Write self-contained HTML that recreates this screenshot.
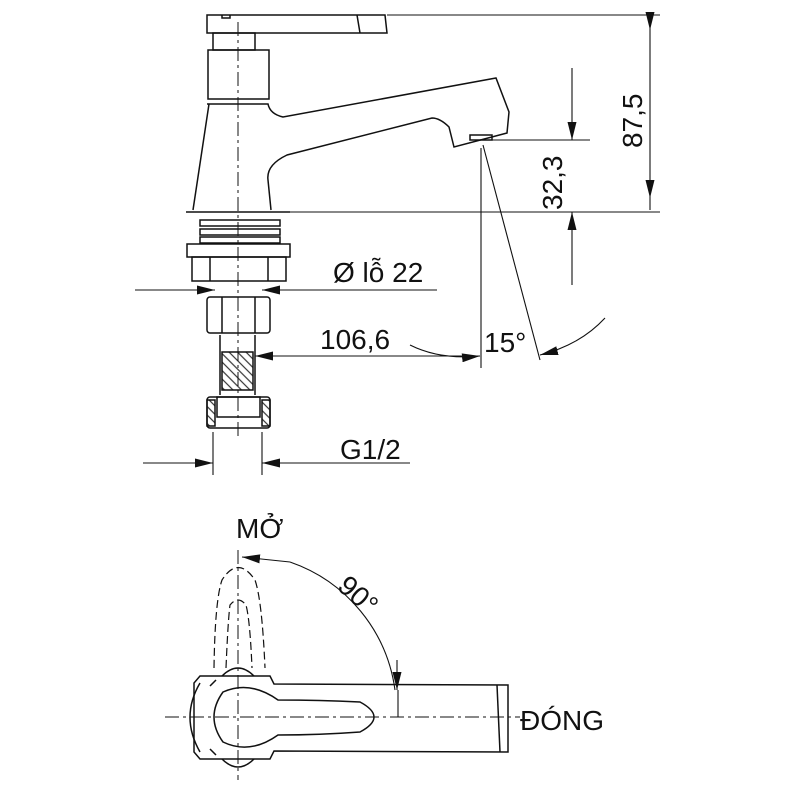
<!DOCTYPE html>
<html><head><style>html,body{margin:0;background:#fff}svg{display:block}text{font-family:"Liberation Sans",sans-serif;fill:#111}</style></head>
<body>
<svg width="800" height="800" viewBox="0 0 800 800" xmlns="http://www.w3.org/2000/svg">
<defs>
<marker id="a" markerWidth="18" markerHeight="9" refX="18" refY="4.5" orient="auto" markerUnits="userSpaceOnUse"><path d="M0,0L18,4.5L0,9z" fill="#111"/></marker>
<pattern id="h" width="6" height="6" patternUnits="userSpaceOnUse" patternTransform="rotate(45)"><path d="M0,3H6" stroke="#333" stroke-width="1.2"/></pattern>
</defs>
<g fill="none" stroke="#111" stroke-width="1.5">
<!-- handle -->
<path d="M207,15H385L387,33H207Z"/><path d="M357,15L360,33"/>
<path d="M222,15v3h8v-3"/>
<rect x="213" y="33" width="42" height="17"/>
<rect x="208" y="50" width="61" height="49"/>
<!-- body -->
<path d="M209,104L193,210"/>
<path d="M207,104H268Q270,114 283,117L496,78L509,112L507,133L454,147L449,127Q440,118 432,118L287,155Q266,165 268,180L271,210"/>
<rect x="470" y="135" width="22" height="5"/>
<path d="M186,212H290"/>
<!-- threads -->
<rect x="200" y="220" width="80" height="6"/><rect x="200" y="229" width="80" height="6"/><rect x="200" y="237" width="80" height="6"/>
<rect x="187" y="244" width="103" height="13"/>
<rect x="192" y="257" width="94" height="24"/><path d="M210,257v24M268,257v24"/>
<rect x="207" y="297" width="63" height="36" rx="3"/><path d="M222,297v36M255,297v36"/>
<path d="M220,335v60M255,335v60"/>
<rect x="222" y="352" width="31" height="38" fill="url(#h)"/>
<rect x="207" y="397" width="63" height="31" rx="3"/><rect x="217" y="397" width="43" height="20"/>
<rect x="207" y="400" width="8" height="26" fill="url(#h)"/><rect x="262" y="400" width="8" height="26" fill="url(#h)"/>
</g>
<g fill="none" stroke="#111" stroke-width="1" stroke-dasharray="14,4,3,4"><path d="M238,22V440"/></g>
<g fill="none" stroke="#111" stroke-width="1.1">
<path d="M387,15H660M290,212H660M490,140H590"/>
<path d="M650,30V198" marker-start="url(#a)" marker-end="url(#a)"/>
<path d="M650,17V30M650,198V210"/>
<path d="M572,68V140" marker-end="url(#a)"/><path d="M572,285V212" marker-end="url(#a)"/>
<path d="M135,290H215" marker-end="url(#a)"/><path d="M437,290H262" marker-end="url(#a)"/>
<path d="M480,356H255" marker-end="url(#a)"/>
<path d="M481,148V368M483,145L540,360"/>
<path d="M410,345Q440,360 480,356" marker-end="url(#a)"/>
<path d="M605,318Q580,345 540,355" marker-end="url(#a)"/>
<path d="M213,432V475M262,432V475"/>
<path d="M143,463H213" marker-end="url(#a)"/><path d="M410,463H262" marker-end="url(#a)"/>
</g>
<text x="333" y="282" font-size="28">Ø lỗ 22</text>
<text x="320" y="349" font-size="28">106,6</text>
<text x="484" y="352" font-size="28">15°</text>
<text x="340" y="459" font-size="28">G1/2</text>
<text font-size="28" transform="translate(642,148) rotate(-90)">87,5</text>
<text font-size="28" transform="translate(562,210) rotate(-90)">32,3</text>
<!-- bottom view -->
<g fill="none" stroke="#111" stroke-width="1.5">
<path d="M200,676H270L274,684L508,685L508,752L274,751L270,759H200L194,752V683Z"/>
<path d="M210,686L216,680M210,749L216,755"/>
<path d="M200,683Q180,717 200,752"/>
<path d="M223,742Q205,717 223,692Q250,680 278,700Q320,700 360,702Q388,717 360,732Q320,735 278,735Q250,755 223,742Z"/>
<path d="M497,685L500,752"/>
<path d="M222,676Q238,660 254,676M222,759Q238,775 254,759"/>
</g>
<g fill="none" stroke="#111" stroke-width="1.2" stroke-dasharray="8,4">
<path d="M214,668Q215,600 222,580Q238,555 255,580Q262,600 265,668"/>
<path d="M226,668Q228,620 230,605Q238,595 246,605Q250,620 252,668"/>
</g>
<g fill="none" stroke="#111" stroke-width="1" stroke-dasharray="14,4,3,4"><path d="M165,717H520M238,550V780"/></g>
<g fill="none" stroke="#111" stroke-width="1.1">
<path d="M395,690A158,158 0 0 0 290,562" /><path d="M290,562L242,557" marker-end="url(#a)"/>
<path d="M398,690V717"/><path d="M397,660V690" marker-end="url(#a)"/>
</g>
<text x="236" y="538" font-size="28">MỞ</text>
<text font-size="28" transform="translate(336,588) rotate(42)">90°</text>
<text x="520" y="730" font-size="28">ĐÓNG</text>
</svg>
</body></html>
